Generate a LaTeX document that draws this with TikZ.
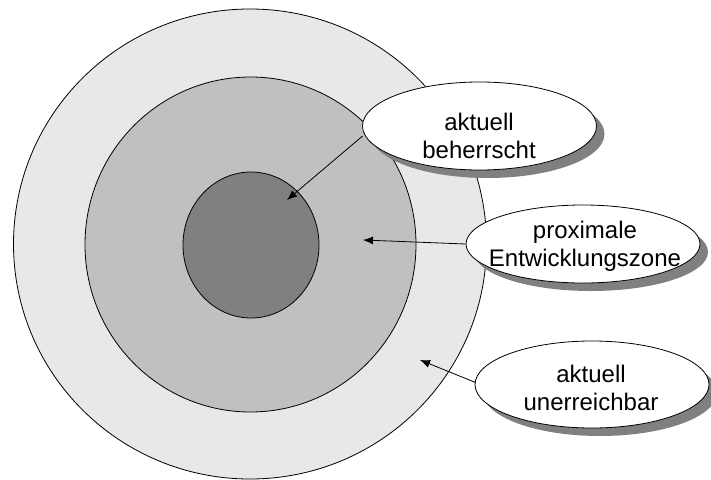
\documentclass[tikz,border=0pt]{standalone}
\usepackage{fontspec}
\setmainfont{Liberation Sans}
\usetikzlibrary{shapes.geometric,arrows.meta}
\definecolor{zoneouter}{HTML}{E8E8E8}
\definecolor{zonemid}{HTML}{C0C0C0}
\definecolor{zoneinner}{HTML}{808080}
\definecolor{shadowgray}{HTML}{808080}
\begin{document}
\begin{tikzpicture}[x=1pt,y=-1pt,
  zone/.style={ellipse,draw=black,line width=0.8pt,inner sep=0pt},
  callout/.style={ellipse,draw=black,fill=white,line width=0.8pt,inner sep=0pt,minimum width=234pt},
  calloutshadow/.style={ellipse,fill=shadowgray,inner sep=0pt,minimum width=234pt},
  lbl/.style={align=center,font=\fontsize{24}{28}\selectfont,inner sep=0pt},
  pointer/.style={line width=0.8pt,-{Latex[length=10pt,width=8pt]}}
]
\useasboundingbox (0,0) rectangle (711,479);
% zones
\node[zone,fill=zoneouter,minimum width=473pt,minimum height=470pt] (outer) at (250,244) {};
\node[zone,fill=zonemid,minimum width=331pt,minimum height=335pt] (mid) at (250.5,244.5) {};
\node[zone,fill=zoneinner,minimum width=136pt,minimum height=146pt] (inner) at (251,245) {};
% callout shadows
\node[calloutshadow,minimum height=88pt] (s1) at (487.5,134) {};
\node[calloutshadow,minimum height=78pt] (s2) at (591,252) {};
\node[calloutshadow,minimum height=87pt] (s3) at (600,392.5) {};
% callouts
\node[callout,minimum height=88pt] (c1) at (479.5,126) {};
\node[callout,minimum height=78pt] (c2) at (583,244) {};
\node[callout,minimum height=87pt] (c3) at (592,384.5) {};
\node[lbl] (t1) at (479,135.5) {aktuell\\beherrscht};
\node[lbl] (t2) at (585,246) {proximale\\Entwicklungszone};
\node[lbl] (t3) at (591,388) {aktuell\\unerreichbar};
% pointer targets
\coordinate (p1) at (287,200);
\coordinate (p2) at (363,240);
\coordinate (p3) at (420,360);
\draw[pointer] (c1.west) ++(0.5,10) -- (p1);
\draw[pointer] (c2.west) -- (p2);
\draw[pointer] (c3.west) ++(1,-2) -- (p3);
\end{tikzpicture}
\end{document}
